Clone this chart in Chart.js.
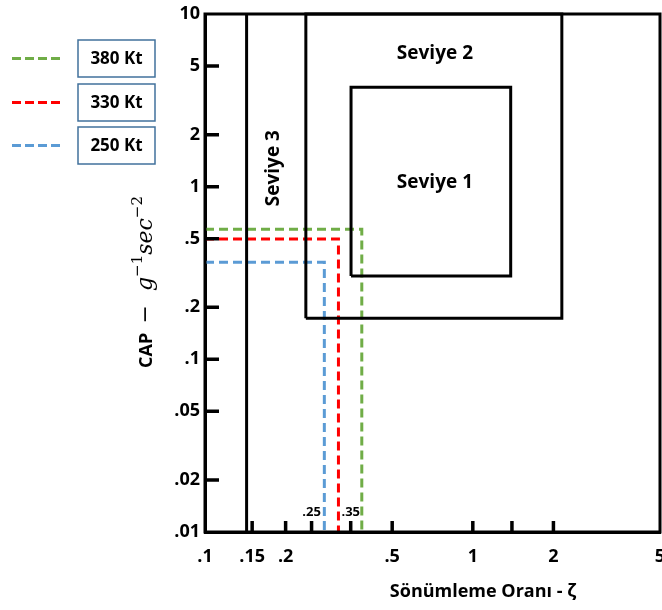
<!DOCTYPE html>
<html>
<head>
<meta charset="utf-8">
<script src="https://cdn.jsdelivr.net/npm/chart.js@4.4.1/dist/chart.umd.min.js"></script>
<style>
  body { margin: 0; background: #fff; }
</style>
</head>
<body>
<canvas id="myChart" width="662" height="610"></canvas>
<script>
// eksen araliklari ve tik etiketleri
var xMin = 0.1, xMax = 5
var yMin = 0.01, yMax = 10
var xTicks = [0.1, 0.15, 0.2, 0.25, 0.35, 0.5, 1, 1.4, 2, 5]
var xTickLabels = ['.1', '.15', '.2', '.25', '.35', '.5', '1', '', '2', '5']
var xInnerTicks = [0.25, 0.35]   // grafigin icine yazilan kucuk etiketler
var yTicks = [0.01, 0.02, 0.05, 0.1, 0.2, 0.5, 1, 2, 5, 10]
var yTickLabels = ['.01', '.02', '.05', '.1', '.2', '.5', '1', '2', '5', '10']

// seviye sinirlari (zeta, CAP)
var level1Zeta = [0.351, 1.385]
var level1Cap = [0.304, 3.76]
var level2Zeta = [0.238, 2.15]
var level2Cap = [0.173, 10]
var level3Zeta = 0.143

// hizlara gore noktalar
var speedLabels = ['380 Kt', '330 Kt', '250 Kt']
var speedZeta = [0.385, 0.315, 0.279]
var speedCap = [0.567, 0.498, 0.365]
var speedColors = ['#70ad47', '#ff0000', '#5b9bd5']

var textFont = "'Open Sans', 'DejaVu Sans', sans-serif"

function box(z, c) {
  return [
    {x: z[0], y: c[0]}, {x: z[0], y: c[1]},
    {x: z[1], y: c[1]}, {x: z[1], y: c[0]}, {x: z[0], y: c[0]}
  ]
}

var datasets = [
  { label: 'Seviye 1', data: box(level1Zeta, level1Cap), borderColor: '#000', borderWidth: 3 },
  { label: 'Seviye 2', data: box(level2Zeta, level2Cap), borderColor: '#000', borderWidth: 3 },
  { label: 'Seviye 3', data: [{x: level3Zeta, y: yMin}, {x: level3Zeta, y: yMax}], borderColor: '#000', borderWidth: 3 }
]
for (let i = 0; i < speedLabels.length; i++) {
  datasets.push({
    label: speedLabels[i],
    data: [{x: xMin, y: speedCap[i]}, {x: speedZeta[i], y: speedCap[i]}, {x: speedZeta[i], y: yMin}],
    borderColor: speedColors[i],
    borderWidth: 3,
    borderDash: [9, 5]
  })
}
datasets.forEach(function(d) {
  d.pointRadius = 0
  d.fill = false
  d.tension = 0
  d.clip = false
  d.borderCapStyle = 'butt'
})

// tikler, cerceve, yazilar ve lejant
var extras = {
  id: 'extras',
  afterDraw: function(chart) {
    var ctx = chart.ctx
    var a = chart.chartArea
    var xs = chart.scales.x
    var ys = chart.scales.y
    ctx.save()

    // ice dogru tik cizgileri
    ctx.strokeStyle = '#000'
    ctx.lineWidth = 3.5
    ctx.beginPath()
    xTicks.forEach(function(v) {
      if (v === xMin || v === xMax) return
      var px = xs.getPixelForValue(v)
      ctx.moveTo(px, a.bottom)
      ctx.lineTo(px, a.bottom - 11)
    })
    yTicks.forEach(function(v) {
      if (v === yMin || v === yMax) return
      var py = ys.getPixelForValue(v)
      ctx.moveTo(a.left, py)
      ctx.lineTo(a.left + 14, py)
    })
    ctx.stroke()

    // cerceve
    ctx.lineWidth = 3
    ctx.strokeRect(a.left, a.top, a.right - a.left, a.bottom - a.top)

    // .25 ve .35
    ctx.fillStyle = '#000'
    ctx.font = 'bold 13px ' + textFont
    ctx.textAlign = 'center'
    ctx.textBaseline = 'middle'
    xInnerTicks.forEach(function(v) {
      ctx.fillText(xTickLabels[xTicks.indexOf(v)], xs.getPixelForValue(v), a.bottom - 20)
    })

    // seviye yazilari
    ctx.font = 'bold 19px ' + textFont
    ctx.fillText('Seviye 2', xs.getPixelForValue(0.722), ys.getPixelForValue(5.87))
    ctx.fillText('Seviye 1', xs.getPixelForValue(0.722), ys.getPixelForValue(1.05))
    ctx.save()
    ctx.translate(xs.getPixelForValue(0.181), ys.getPixelForValue(1.28))
    ctx.rotate(-Math.PI / 2)
    ctx.fillText('Seviye 3', 0, 0)
    ctx.restore()

    // x ekseni basligi
    ctx.font = 'bold 18px ' + textFont
    ctx.fillText('Sönümleme Oranı - ζ', 483, 592)

    // y ekseni basligi
    var parts = [
      {t: 'CAP  ', f: 'bold 18px ' + textFont, dy: 0},
      {t: '\u2212  ', f: '22px "DejaVu Serif", serif', dy: 0},
      {t: 'g', f: 'italic 22px "DejaVu Serif", serif', dy: 0},
      {t: '\u22121', f: '15px "DejaVu Serif", serif', dy: -10},
      {t: 'sec', f: 'italic 22px "DejaVu Serif", serif', dy: 0},
      {t: '\u22122', f: '15px "DejaVu Serif", serif', dy: -10}
    ]
    var total = 0
    parts.forEach(function(p) { ctx.font = p.f; p.w = ctx.measureText(p.t).width; total += p.w })
    ctx.save()
    ctx.translate(152, 282)
    ctx.rotate(-Math.PI / 2)
    ctx.textAlign = 'left'
    ctx.textBaseline = 'alphabetic'
    var cx = -total / 2
    parts.forEach(function(p) {
      ctx.font = p.f
      ctx.fillText(p.t, cx, p.dy)
      cx += p.w
    })
    ctx.restore()

    // lejant
    var legendY = [58.5, 102.5, 145.5]
    ctx.textAlign = 'center'
    ctx.textBaseline = 'middle'
    for (let i = 0; i < speedLabels.length; i++) {
      var ly = legendY[i]
      ctx.strokeStyle = speedColors[i]
      ctx.lineWidth = 3
      ctx.setLineDash([9, 4])
      ctx.beginPath()
      ctx.moveTo(12, ly)
      ctx.lineTo(61, ly)
      ctx.stroke()
      ctx.setLineDash([])
      ctx.strokeStyle = '#41719c'
      ctx.lineWidth = 1.5
      ctx.strokeRect(78, ly - 18.5, 77, 37)
      ctx.fillStyle = '#000'
      ctx.font = 'bold 17px ' + textFont
      ctx.fillText(speedLabels[i], 116.5, ly + 1)
    }
    ctx.restore()
  }
}

var ctx = document.getElementById('myChart').getContext('2d')
var chart = new Chart(ctx, {
  type: 'line',
  data: { datasets: datasets },
  options: {
    responsive: false,
    animation: false,
    layout: { padding: { top: 14, right: 2, left: 0, bottom: 0 } },
    plugins: { legend: { display: false }, tooltip: { enabled: false } },
    scales: {
      x: {
        type: 'logarithmic',
        min: xMin,
        max: xMax,
        grid: { display: false, drawTicks: false },
        border: { display: true, color: '#000', width: 3 },
        afterBuildTicks: function(scale) {
          scale.ticks = xTicks.map(function(v) { return {value: v} })
        },
        afterFit: function(scale) {
          scale.height = 78
          scale.paddingLeft = 0
          scale.paddingRight = 0
        },
        ticks: {
          autoSkip: false,
          maxRotation: 0,
          padding: 14,
          color: '#000',
          font: { family: textFont, size: 18, weight: 'bold' },
          callback: function(value) {
            if (xInnerTicks.indexOf(value) !== -1) return ''
            var i = xTicks.indexOf(value)
            return i === -1 ? '' : xTickLabels[i]
          }
        }
      },
      y: {
        type: 'logarithmic',
        min: yMin,
        max: yMax,
        grid: { display: false, drawTicks: false },
        border: { display: true, color: '#000', width: 3 },
        afterBuildTicks: function(scale) {
          scale.ticks = yTicks.map(function(v) { return {value: v} })
        },
        afterFit: function(scale) {
          scale.width = 205
          scale.paddingTop = 0
          scale.paddingBottom = 0
        },
        ticks: {
          autoSkip: false,
          padding: 5,
          color: '#000',
          font: { family: textFont, size: 18, weight: 'bold' },
          callback: function(value) {
            var i = yTicks.indexOf(value)
            return i === -1 ? '' : yTickLabels[i]
          }
        }
      }
    }
  },
  plugins: [extras]
})
</script>
</body>
</html>
